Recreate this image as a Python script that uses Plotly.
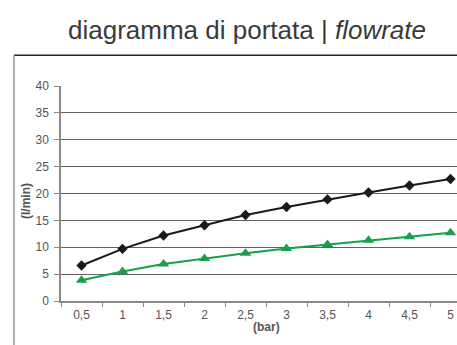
import plotly.graph_objects as go

# Pressure (bar) categories and flow rates (l/min)
pressure = ["0,5", "1", "1,5", "2", "2,5", "3", "3,5", "4", "4,5", "5"]
flow_high = [6.6, 9.7, 12.2, 14.1, 16.0, 17.5, 18.9, 20.2, 21.5, 22.7]
flow_low = [3.85, 5.5, 6.9, 7.9, 8.9, 9.75, 10.5, 11.3, 11.95, 12.7]
y_ticks = [0, 5, 10, 15, 20, 25, 30, 35, 40]

W, H = 457, 345
ML, MR, MT, MB = 61, 0, 86, 44
plot_w = W - ML - MR
cat_px = 41.0

fig = go.Figure()
fig.add_trace(go.Scatter(
    x=pressure, y=flow_high, mode="lines+markers",
    line=dict(color="#1a1a1a", width=2),
    marker=dict(symbol="diamond", size=8, color="#1a1a1a"),
    showlegend=False,
))
fig.add_trace(go.Scatter(
    x=pressure, y=flow_low, mode="lines+markers",
    line=dict(color="#16a04a", width=2),
    marker=dict(symbol="triangle-up", size=10, color="#16a04a"),
    showlegend=False,
))

lbl_font = dict(family="Liberation Sans, Arial, sans-serif", size=12, color="#555555")

fig.update_xaxes(
    type="category",
    range=[-0.5, -0.5 + plot_w / cat_px],
    showgrid=False,
    showline=True, linecolor="#8a8a8a", linewidth=1.5,
    ticks="outside", tickson="boundaries", ticklen=4, tickcolor="#8a8a8a",
    tickfont=lbl_font,
    ticklabelstandoff=2,
    zeroline=False,
)
fig.update_yaxes(
    range=[0, 40],
    tickvals=y_ticks,
    showgrid=True, gridcolor="#606060", gridwidth=1,
    showline=True, linecolor="#8a8a8a", linewidth=1.5,
    ticks="outside", ticklen=5, tickcolor="#8a8a8a",
    tickfont=lbl_font,
    ticklabelstandoff=3,
    zeroline=False,
)

# Outer frame: top and left edges of the surrounding box
x_left = (14 - ML) / plot_w
y_top = (H - MB - 55.3) / (H - MT - MB)
fig.add_shape(type="line", xref="paper", yref="paper",
              x0=x_left, x1=1.1, y0=y_top, y1=y_top,
              line=dict(color="#222222", width=1.6))
fig.add_shape(type="line", xref="paper", yref="paper",
              x0=x_left, x1=x_left, y0=y_top, y1=-0.4,
              line=dict(color="#9a9a9a", width=1.6))

fig.add_annotation(
    text="(bar)", xref="paper", yref="paper",
    x=(266 - ML) / plot_w, y=(H - MB - 327) / (H - MT - MB),
    showarrow=False, xanchor="center", yanchor="middle",
    font=dict(family="Liberation Sans, Arial, sans-serif", size=12, color="#555555", weight="bold"),
)
fig.add_annotation(
    text="(l/min)", xref="paper", yref="paper",
    x=(26 - ML) / plot_w, y=(H - MB - 201) / (H - MT - MB),
    showarrow=False, xanchor="center", yanchor="middle", textangle=-90,
    font=dict(family="Liberation Sans, Arial, sans-serif", size=12, color="#555555", weight="bold"),
)

fig.update_layout(
    width=W, height=H,
    margin=dict(l=ML, r=MR, t=MT, b=MB),
    paper_bgcolor="white", plot_bgcolor="white",
    title=dict(
        text="diagramma di portata | <i>flowrate</i>",
        x=247 / W, xref="container", xanchor="center",
        y=1 - 30 / H, yref="container", yanchor="middle",
        font=dict(family="Liberation Sans, Arial, sans-serif", size=26, color="#3a3a3a"),
    ),
)

fig.write_html("out.html")
